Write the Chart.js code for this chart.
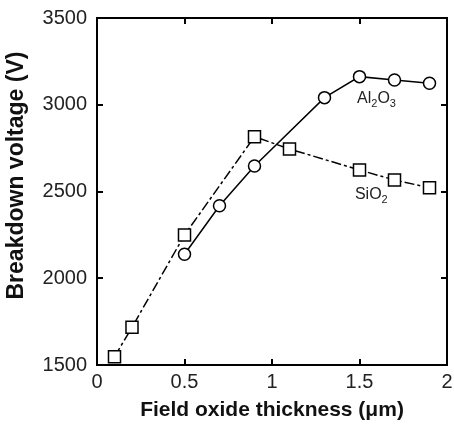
<!DOCTYPE html>
<html>
<head>
<meta charset="utf-8">
<script src="https://cdn.jsdelivr.net/npm/chart.js@4"></script>
<style>
  body { margin: 0; background: #fff; }
  #wrap { width: 454px; height: 428px; }
</style>
</head>
<body>
<div id="wrap"><canvas id="chart" width="454" height="428"></canvas></div>
<script>
// Data
const al2o3Thickness = [0.5, 0.7, 0.9, 1.3, 1.5, 1.7, 1.9];
const al2o3Voltage = [2138, 2418, 2647, 3041, 3162, 3143, 3124];

const sio2Thickness = [0.1, 0.2, 0.5, 0.9, 1.1, 1.5, 1.7, 1.9];
const sio2Voltage = [1548, 1717, 2249, 2816, 2745, 2624, 2566, 2522];

const xTickLabels = ["0", "0.5", "1", "1.5", "2"];
const yTickLabels = ["1500", "2000", "2500", "3000", "3500"];

// in-plot series labels (text pieces, "sub" = subscript), anchored in data units
const seriesNotes = [
  { parts: [["Al", false], ["2", true], ["O", false], ["3", true]], x: 1.486, y: 3012 },
  { parts: [["SiO", false], ["2", true]], x: 1.474, y: 2455 },
];

const FONT = "'Liberation Sans', Arial, Helvetica, sans-serif";
Chart.defaults.font.family = FONT;
Chart.defaults.color = "#111";

function toPoints(xs, ys) {
  return xs.map((x, i) => ({ x: x, y: ys[i] }));
}

// draws the Al2O3 / SiO2 labels next to the curves
const notesPlugin = {
  id: "notes",
  afterDatasetsDraw(chart) {
    const ctx = chart.ctx;
    const xs = chart.scales.x;
    const ys = chart.scales.y;
    ctx.save();
    ctx.fillStyle = "#222";
    ctx.textBaseline = "alphabetic";
    ctx.textAlign = "left";
    seriesNotes.forEach((n) => {
      let px = xs.getPixelForValue(n.x);
      const py = ys.getPixelForValue(n.y);
      n.parts.forEach(([txt, sub]) => {
        ctx.font = sub ? "11px " + FONT : "16px " + FONT;
        ctx.fillText(txt, px, sub ? py + 4 : py);
        px += ctx.measureText(txt).width;
      });
    });
    ctx.restore();
  },
};

const frameGrid = {
  display: true,
  drawOnChartArea: false,
  drawTicks: true,
  tickLength: -6,
  color: "#000",
  lineWidth: 2,
};
const frameBorder = { display: true, color: "#000", width: 2 };

const chart = new Chart(document.getElementById("chart").getContext("2d"), {
  type: "line",
  data: {
    datasets: [
      {
        label: "Al2O3",
        data: toPoints(al2o3Thickness, al2o3Voltage),
        borderColor: "#000",
        borderWidth: 1.5,
        tension: 0,
        pointStyle: "circle",
        pointRadius: 6,
        pointBackgroundColor: "#fff",
        pointBorderColor: "#000",
        pointBorderWidth: 1.5,
      },
      {
        label: "SiO2",
        data: toPoints(sio2Thickness, sio2Voltage),
        borderColor: "#000",
        borderWidth: 1.5,
        borderDash: [10, 3, 3, 3],
        tension: 0,
        pointStyle: "rect",
        pointRadius: 8.5,
        pointBackgroundColor: "#fff",
        pointBorderColor: "#000",
        pointBorderWidth: 1.5,
      },
    ],
  },
  options: {
    responsive: false,
    animation: false,
    devicePixelRatio: 1,
    layout: { autoPadding: false, padding: { top: 18, right: 7, bottom: 0, left: 0 } },
    plugins: {
      legend: { display: false },
      tooltip: { enabled: false },
    },
    scales: {
      x: {
        type: "linear",
        position: "bottom",
        min: 0,
        max: 2,
        ticks: {
          stepSize: 0.5,
          padding: 11,
          font: { size: 20 },
          color: "#222",
          callback: (v, i) => xTickLabels[i],
        },
        grid: frameGrid,
        border: frameBorder,
        title: {
          display: true,
          text: "Field oxide thickness (\u03bcm)",
          font: { size: 21, weight: "bold" },
          color: "#111",
          padding: { top: 0, bottom: 5 },
        },
        afterFit: (s) => {
          s.height = 63;
          s.paddingLeft = 0;
          s.paddingRight = 0;
        },
      },
      x2: {
        type: "linear",
        position: "top",
        min: 0,
        max: 2,
        ticks: { stepSize: 0.5, display: false },
        grid: frameGrid,
        border: frameBorder,
        afterFit: (s) => { s.height = 0; },
      },
      y: {
        type: "linear",
        position: "left",
        min: 1500,
        max: 3500,
        ticks: {
          stepSize: 500,
          padding: 16,
          font: { size: 20 },
          color: "#222",
          callback: (v, i) => yTickLabels[i],
        },
        grid: frameGrid,
        border: frameBorder,
        title: {
          display: true,
          text: "     Breakdown voltage (V)",
          font: { size: 23, weight: "bold" },
          color: "#111",
          padding: { top: 3, bottom: 0 },
        },
        afterFit: (s) => {
          s.width = 97;
          s.paddingTop = 0;
          s.paddingBottom = 0;
        },
      },
      y2: {
        type: "linear",
        position: "right",
        min: 1500,
        max: 3500,
        ticks: { stepSize: 500, display: false },
        grid: frameGrid,
        border: frameBorder,
        afterFit: (s) => { s.width = 0; },
      },
    },
  },
  plugins: [notesPlugin],
});
</script>
</body>
</html>
